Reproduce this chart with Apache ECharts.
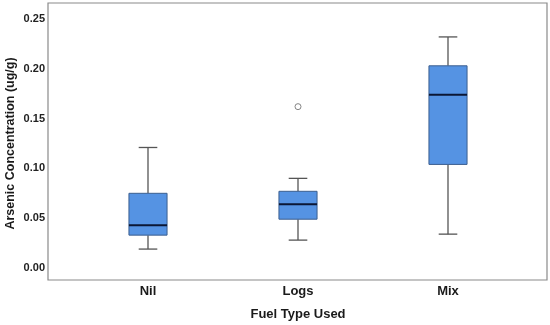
<!DOCTYPE html>
<html>
<head>
<meta charset="utf-8">
<script src="https://cdn.jsdelivr.net/npm/echarts@6/dist/echarts.min.js"></script>
<style>html,body{margin:0;padding:0;background:#fff}#c{width:550px;height:325px}</style>
</head>
<body>
<div id="c"></div>
<script>
var categories = ['Nil', 'Logs', 'Mix'];
var whiskerLow = [0.019, 0.028, 0.034];
var q1 = [0.033, 0.049, 0.104];
var median = [0.043, 0.064, 0.174];
var q3 = [0.075, 0.077, 0.203];
var whiskerHigh = [0.121, 0.090, 0.232];
var outliers = [[1, 0.162]];
var yTicks = [0, 0.05, 0.10, 0.15, 0.20, 0.25];

var boxData = categories.map(function (c, i) {
  return [i, whiskerLow[i], q1[i], median[i], q3[i], whiskerHigh[i]];
});

var font = 'Liberation Sans, Arial, sans-serif';
var chart = echarts.init(document.getElementById('c'), null, {renderer: 'canvas'});

function renderBox(params, api) {
  var i = api.value(0);
  var pLow = api.coord([i, api.value(1)]);
  var pQ1 = api.coord([i, api.value(2)]);
  var pMed = api.coord([i, api.value(3)]);
  var pQ3 = api.coord([i, api.value(4)]);
  var pHigh = api.coord([i, api.value(5)]);
  var band = api.size([1, 0])[0];
  var hw = band * 0.127;
  var cw = band * 0.062;
  var x = pMed[0];
  var wStyle = {stroke: '#555555', lineWidth: 1.3};
  return {
    type: 'group',
    children: [
      {type: 'line', shape: {x1: x, y1: pLow[1], x2: x, y2: pQ1[1]}, style: wStyle},
      {type: 'line', shape: {x1: x, y1: pQ3[1], x2: x, y2: pHigh[1]}, style: wStyle},
      {type: 'line', shape: {x1: x - cw, y1: pLow[1], x2: x + cw, y2: pLow[1]}, style: wStyle},
      {type: 'line', shape: {x1: x - cw, y1: pHigh[1], x2: x + cw, y2: pHigh[1]}, style: wStyle},
      {type: 'rect', shape: {x: x - hw, y: pQ3[1], width: hw * 2, height: pQ1[1] - pQ3[1]},
        style: {fill: '#5593e3', stroke: '#3d5f8f', lineWidth: 1}},
      {type: 'line', shape: {x1: x - hw, y1: pMed[1], x2: x + hw, y2: pMed[1]},
        style: {stroke: '#0b1735', lineWidth: 2}}
    ]
  };
}

chart.setOption({
  animation: false,
  grid: [
    {left: 48, right: 3, top: 3, bottom: 45, show: true, borderColor: '#8a8a8a', borderWidth: 1.2,
      backgroundColor: 'transparent', outerBoundsMode: 'none', containLabel: false},
    {left: 73, right: 27, top: 19, bottom: 57, outerBoundsMode: 'none', containLabel: false}
  ],
  xAxis: [
    {gridIndex: 0, type: 'value', show: false, min: 0, max: 1},
    {
      gridIndex: 1, type: 'category', data: categories,
      axisLine: {show: false}, axisTick: {show: false},
      axisLabel: {margin: 17, fontFamily: font, fontWeight: 'bold', fontSize: 13, color: '#1a1a1a'},
      name: 'Fuel Type Used', nameLocation: 'middle', nameGap: 40, nameMoveOverlap: false,
      nameTextStyle: {fontFamily: font, fontWeight: 'bold', fontSize: 13, color: '#1a1a1a'}
    }
  ],
  yAxis: [
    {gridIndex: 0, type: 'value', show: false, min: 0, max: 1},
    {
      gridIndex: 1, type: 'value', min: yTicks[0], max: yTicks[yTicks.length - 1], interval: 0.05,
      axisLine: {show: false}, axisTick: {show: false}, splitLine: {show: false},
      axisLabel: {margin: 28, fontFamily: font, fontWeight: 'bold', fontSize: 11, color: '#222',
        formatter: function (v) { return v.toFixed(2); }},
      name: 'Arsenic Concentration (ug/g)', nameLocation: 'middle', nameGap: 56, nameMoveOverlap: false,
      nameTextStyle: {fontFamily: font, fontWeight: 'bold', fontSize: 12.5, color: '#1a1a1a'}
    }
  ],
  series: [
    {type: 'custom', xAxisIndex: 1, yAxisIndex: 1, data: boxData, renderItem: renderBox,
      encode: {x: 0, y: [1, 2, 3, 4, 5]}},
    {type: 'scatter', xAxisIndex: 1, yAxisIndex: 1, data: outliers, symbol: 'circle', symbolSize: 6,
      itemStyle: {color: '#ffffff', borderColor: '#666666', borderWidth: 1}}
  ]
});
</script>
</body>
</html>
